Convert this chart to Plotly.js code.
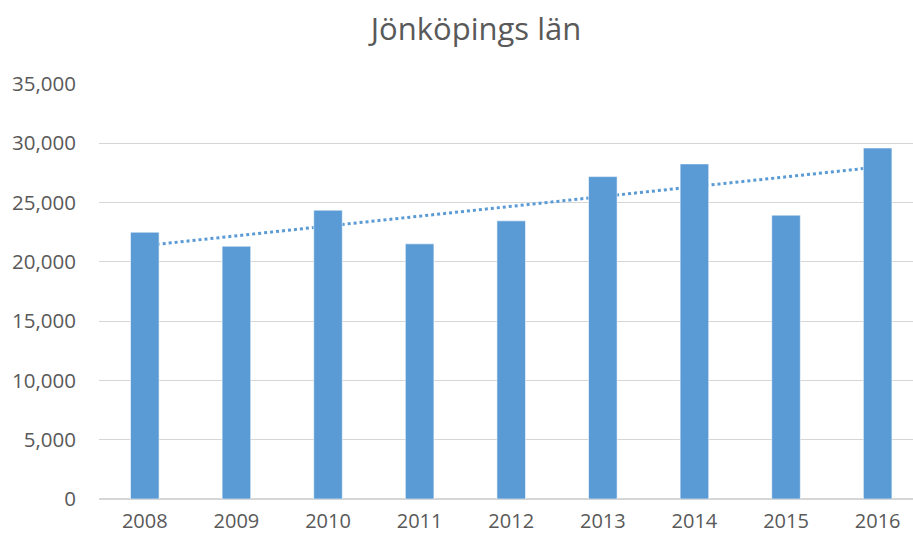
<!DOCTYPE html>
<html>
<head>
<meta charset="utf-8">
<script src="https://cdn.plot.ly/plotly-3.0.1.min.js"></script>
<style>
html,body{margin:0;padding:0;background:#fff;}
#chart{width:913px;height:540px;}
</style>
</head>
<body>
<div id="chart"></div>
<script>
var years = ["2008","2009","2010","2011","2012","2013","2014","2015","2016"];
var values = [22500, 21320, 24360, 21520, 23460, 27190, 28260, 23940, 29600];
var yTickVals = [0, 5000, 10000, 15000, 20000, 25000, 30000, 35000];
var chartTitle = "Jönköpings län";

// linear trendline (least squares) derived from the values
var n = values.length, sx = 0, sy = 0, sxx = 0, sxy = 0;
for (var i = 0; i < n; i++) { sx += i; sy += values[i]; sxx += i * i; sxy += i * values[i]; }
var slope = (n * sxy - sx * sy) / (n * sxx - sx * sx);
var intercept = (sy - slope * sx) / n;
var trend = years.map(function (_, i) { return intercept + slope * i; });

var blue = "#5b9bd5";
var font = "'Open Sans', 'Noto Sans', sans-serif";
var xr = [-0.5, 8.386];
var yr = [0, 35000];

var data = [
  {
    type: "scatter", mode: "lines", x: years, y: trend,
    xaxis: "x", yaxis: "y",
    line: { color: blue, width: 3, dash: "dot" },
    hoverinfo: "skip", showlegend: false
  },
  {
    type: "bar", x: years, y: values,
    xaxis: "x2", yaxis: "y2",
    marker: { color: blue, line: { color: "rgba(255,255,255,0.55)", width: 1 } },
    showlegend: false
  }
];

var layout = {
  width: 913, height: 540,
  margin: { l: 99, r: 0, t: 84, b: 41, pad: 0 },
  paper_bgcolor: "#fff", plot_bgcolor: "#fff",
  font: { family: font, color: "#595959" },
  title: {
    text: chartTitle,
    font: { family: font, size: 31, color: "#595959" },
    xref: "container", yref: "container",
    x: 476 / 913, xanchor: "center",
    y: 1 - 29 / 540, yanchor: "middle"
  },
  bargap: 0.688,
  xaxis: {
    type: "category", range: xr, fixedrange: true,
    showgrid: false, zeroline: false, showline: false,
    ticks: "", ticklabelstandoff: 8,
    tickfont: { family: font, size: 20, color: "#595959" }
  },
  yaxis: {
    range: yr, fixedrange: true,
    tickvals: yTickVals, tickformat: ",d",
    showgrid: true, gridcolor: "#d6d6d6", gridwidth: 1.2,
    zeroline: true, zerolinecolor: "#d6d6d6", zerolinewidth: 1.2,
    showline: false, ticks: "", ticklabelstandoff: 22,
    tickfont: { family: font, size: 20.5, color: "#595959" }
  },
  xaxis2: {
    type: "category", overlaying: "x", range: xr, fixedrange: true,
    showgrid: false, zeroline: false, showline: false, showticklabels: false, ticks: ""
  },
  yaxis2: {
    overlaying: "y", range: yr, fixedrange: true,
    showgrid: false, zeroline: false, showline: false, showticklabels: false, ticks: ""
  }
};

Plotly.newPlot("chart", data, layout, { displayModeBar: false, staticPlot: true });
</script>
</body>
</html>
